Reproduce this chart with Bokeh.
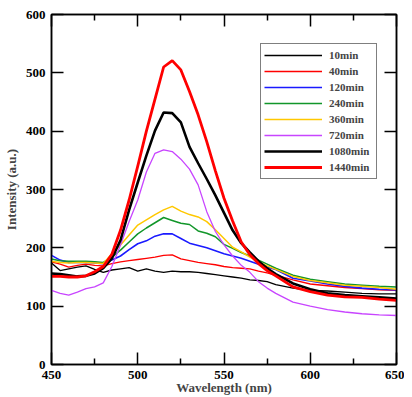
from bokeh.plotting import figure
from bokeh.models import Range1d, FixedTicker, LinearAxis, Legend, LegendItem
from bokeh.embed import file_html
from bokeh.resources import INLINE

wavelength = [450, 455, 460, 465, 470, 475, 480, 485, 490, 495, 500, 505, 510, 515, 520,
              525, 530, 535, 540, 545, 550, 555, 560, 565, 570, 575, 580, 590, 600, 610,
              620, 630, 640, 650]

i_10min = [174, 161, 164, 167, 169, 163, 158, 162, 164, 166, 160, 164, 160, 158, 160,
           159, 159, 158, 156, 154, 152, 150, 148, 145, 144, 142, 137, 131, 127, 126,
           124, 122, 121, 121]
i_40min = [176, 172, 167, 170, 172, 170, 169, 173, 176, 178, 180, 182, 184, 187, 188,
           181, 178, 175, 173, 171, 168, 166, 165, 164, 160, 157, 153, 145, 138, 135,
           132, 130, 128, 127]
i_120min = [187, 179, 175, 175, 175, 174, 173, 179, 186, 197, 207, 212, 220, 224, 224,
            216, 208, 204, 200, 195, 190, 186, 182, 177, 172, 167, 163, 148, 143, 138,
            134, 131, 129, 128]
i_240min = [181, 178, 177, 177, 177, 176, 175, 184, 196, 210, 224, 234, 243, 252, 247,
            242, 240, 229, 225, 219, 206, 199, 192, 186, 179, 172, 165, 153, 146, 142,
            138, 136, 134, 133]
i_360min = [177, 175, 174, 175, 175, 174, 173, 190, 205, 222, 239, 248, 257, 265, 271,
            263, 257, 253, 245, 231, 216, 201, 193, 184, 176, 169, 163, 151, 144, 140,
            136, 134, 132, 129]
i_720min = [127, 122, 119, 124, 130, 133, 140, 168, 205, 245, 282, 330, 362, 368, 365,
            352, 335, 308, 262, 228, 205, 186, 170, 158, 142, 131, 122, 107, 100, 94,
            90, 87, 85, 84]
i_1080min = [156, 155, 153, 151, 152, 156, 165, 182, 213, 265, 312, 358, 401, 432, 431,
             415, 373, 345, 318, 290, 260, 230, 208, 192, 177, 165, 155, 139, 129, 122,
             119, 117, 115, 113]
i_1440min = [151, 151, 150, 150, 152, 159, 168, 189, 230, 282, 340, 400, 455, 510, 521,
             505, 468, 428, 382, 332, 285, 246, 210, 188, 173, 161, 152, 133, 125, 119,
             116, 115, 112, 110]

series_names = ["10min", "40min", "120min", "240min", "360min", "720min", "1080min", "1440min"]
series_values = [i_10min, i_40min, i_120min, i_240min, i_360min, i_720min, i_1080min, i_1440min]
series_colors = ["#000000", "#ff0000", "#1a1aff", "#12962a", "#ffc800", "#c845ff", "#000000", "#ff0000"]
series_widths = [1.3, 1.3, 1.6, 1.5, 1.5, 1.3, 2.6, 2.8]

x_ticks = [450, 500, 550, 600, 650]
x_minor = [475, 525, 575, 625]
y_ticks = [0, 100, 200, 300, 400, 500, 600]

FONT = "Liberation Serif"

p = figure(width=404, height=397, output_backend="svg", toolbar_location=None,
           x_range=Range1d(450, 650), y_range=Range1d(0, 600),
           min_border_left=45, min_border_right=8, min_border_top=14, min_border_bottom=33)
p.grid.visible = False
p.outline_line_color = "black"
p.outline_line_width = 1.5
p.background_fill_color = "white"
p.border_fill_color = "white"

items = []
for name, vals, col, w in zip(series_names, series_values, series_colors, series_widths):
    r = p.line(wavelength, vals, line_color=col, line_width=w)
    items.append(LegendItem(label=name, renderers=[r]))

def style_axis(ax, labels=True):
    ax.axis_line_width = 1.5
    ax.major_tick_line_width = 1.5
    ax.minor_tick_line_width = 1.5
    ax.major_tick_in = 12
    ax.major_tick_out = 0
    ax.minor_tick_in = 6
    ax.minor_tick_out = 0
    if labels:
        ax.major_label_text_font = FONT
        ax.major_label_text_font_style = "bold"
        ax.major_label_text_font_size = "13px"
        ax.major_label_text_color = "black"
    else:
        ax.major_label_text_font_size = "0px"
        ax.major_label_text_color = None
        ax.major_label_standoff = 0

xt = FixedTicker(ticks=x_ticks, minor_ticks=x_minor)
yt = FixedTicker(ticks=y_ticks, minor_ticks=[])

p.xaxis.ticker = xt
p.yaxis.ticker = yt
style_axis(p.xaxis[0])
style_axis(p.yaxis[0])
p.xaxis.major_label_standoff = 6
p.yaxis.major_label_standoff = 6

p.xaxis.axis_label = "Wavelength (nm)"
p.xaxis.axis_label_text_font = FONT
p.xaxis.axis_label_text_font_style = "bold"
p.xaxis.axis_label_text_font_size = "13px"
p.xaxis.axis_label_standoff = -2

p.yaxis.axis_label = "Intensity (a.u.)"
p.yaxis.axis_label_text_font = FONT
p.yaxis.axis_label_text_font_style = "bold"
p.yaxis.axis_label_text_font_size = "13px"
p.yaxis.axis_label_standoff = 4

top_ax = LinearAxis(ticker=FixedTicker(ticks=x_ticks, minor_ticks=x_minor))
style_axis(top_ax, labels=False)
p.add_layout(top_ax, "above")
right_ax = LinearAxis(ticker=FixedTicker(ticks=y_ticks, minor_ticks=[]))
style_axis(right_ax, labels=False)
p.add_layout(right_ax, "right")

legend = Legend(items=items, location=(209, 185), margin=0, padding=3,
                glyph_width=58, glyph_height=16, label_height=16, label_width=44,
                label_standoff=7, spacing=0,
                label_text_font=FONT, label_text_font_style="bold",
                label_text_font_size="11px", border_line_color="black",
                border_line_width=1, background_fill_alpha=1)
p.add_layout(legend, "center")

open("out.html", "w").write(file_html(p, INLINE))
